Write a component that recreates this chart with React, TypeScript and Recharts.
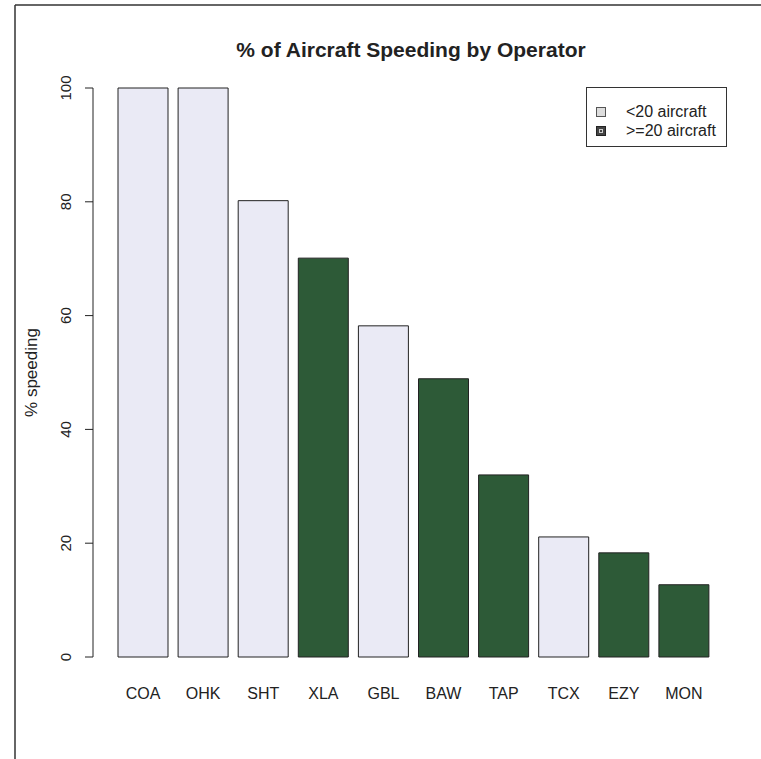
import React from 'react';
import { BarChart, Bar, XAxis, YAxis, Cell, Legend, Label } from 'recharts';

const operators = ['COA', 'OHK', 'SHT', 'XLA', 'GBL', 'BAW', 'TAP', 'TCX', 'EZY', 'MON'];
const pctSpeeding = [100, 100, 80.2, 70.1, 58.2, 48.9, 32.0, 21.1, 18.3, 12.7];
const fleetGroup = ['small', 'small', 'small', 'large', 'small', 'large', 'large', 'small', 'large', 'large'];
const yTicks = [0, 20, 40, 60, 80, 100];
const legendLabels = ['<20 aircraft', '>=20 aircraft'];
const titleText = '% of Aircraft Speeding by Operator';
const yLabel = '% speeding';

const LIGHT = '#eaeaf5';
const DARK = '#2d5a37';
const FONT = '"Liberation Sans", Arial, Helvetica, sans-serif';

const data = operators.map((op, i) => ({ op, pct: pctSpeeding[i], group: fleetGroup[i] }));

const YTick = (props: any) => {
  const { x, y, payload } = props;
  return (
    <text
      x={x}
      y={y}
      transform={`rotate(-90, ${x}, ${y})`}
      textAnchor="middle"
      fontSize={15}
      fontFamily={FONT}
      fill="#222"
    >
      {payload.value}
    </text>
  );
};

const LegendBox = () => (
  <div
    style={{
      border: '1px solid #333',
      width: 141,
      height: 60,
      boxSizing: 'border-box',
      background: '#fff',
      fontFamily: FONT,
      fontSize: 16,
      color: '#222',
      padding: '14px 0 0 9px',
      lineHeight: '19px',
    }}
  >
    {legendLabels.map((t, i) => (
      <div key={t} style={{ display: 'flex', alignItems: 'center', whiteSpace: 'nowrap' }}>
        <span
          style={{
            display: 'inline-block',
            width: 8,
            height: 8,
            border: i === 0 ? '1px solid #555' : '1px solid #222',
            background: i === 0 ? '#ddd' : '#444',
            boxShadow: i === 1 ? 'inset 0 0 0 2px #444, inset 0 0 0 3px #ccc' : 'none',
            marginRight: 20,
            flex: 'none',
          }}
        />
        <span>{t}</span>
      </div>
    ))}
  </div>
);

export default function App() {
  return (
    <div style={{ position: 'absolute', left: 0, top: 0, width: 761, height: 759, background: '#fff' }}>
      <svg width={761} height={759} style={{ position: 'absolute', left: 0, top: 0 }}>
        <line x1={15} y1={5} x2={761} y2={5} stroke="#333" strokeWidth={1.5} />
        <line x1={15} y1={5} x2={15} y2={759} stroke="#333" strokeWidth={1.5} />
        <text
          x={411}
          y={57}
          textAnchor="middle"
          fontFamily={FONT}
          fontWeight="bold"
          fontSize={21}
          fill="#222"
        >
          {titleText}
        </text>
      </svg>
      <div style={{ position: 'absolute', left: 0, top: 0 }}>
        <BarChart width={761} height={759} data={data} margin={{ top: 88, right: 47, bottom: 2, left: 0 }}>
          <XAxis
            dataKey="op"
            axisLine={false}
            tickLine={false}
            tickSize={0}
            tickMargin={31}
            height={40}
            padding={{ left: 20, right: 0 }}
            interval={0}
            tick={{ fontSize: 16, fontFamily: FONT, fill: '#222' }}
          />
          <YAxis
            domain={[0, 100]}
            ticks={yTicks}
            width={93}
            tickSize={8}
            tickMargin={14}
            axisLine={{ stroke: '#222' }}
            tickLine={{ stroke: '#222' }}
            tick={<YTick />}
          >
            <Label
              content={(p: any) => {
                const vb = p.viewBox;
                const cx = vb.x + 37;
                const cy = vb.y + vb.height / 2;
                return (
                  <text
                    x={cx}
                    y={cy}
                    transform={`rotate(-90, ${cx}, ${cy})`}
                    textAnchor="middle"
                    fontSize={17}
                    fontFamily={FONT}
                    fill="#222"
                  >
                    {yLabel}
                  </text>
                );
              }}
            />
          </YAxis>
          <Legend
            content={<LegendBox />}
            wrapperStyle={{ position: 'absolute', left: 586, top: 87, width: 141 }}
          />
          <Bar dataKey="pct" barSize={50} stroke="#222" strokeWidth={1} isAnimationActive={false}>
            {data.map((d, i) => (
              <Cell key={i} fill={d.group === 'large' ? DARK : LIGHT} />
            ))}
          </Bar>
        </BarChart>
      </div>
    </div>
  );
}
